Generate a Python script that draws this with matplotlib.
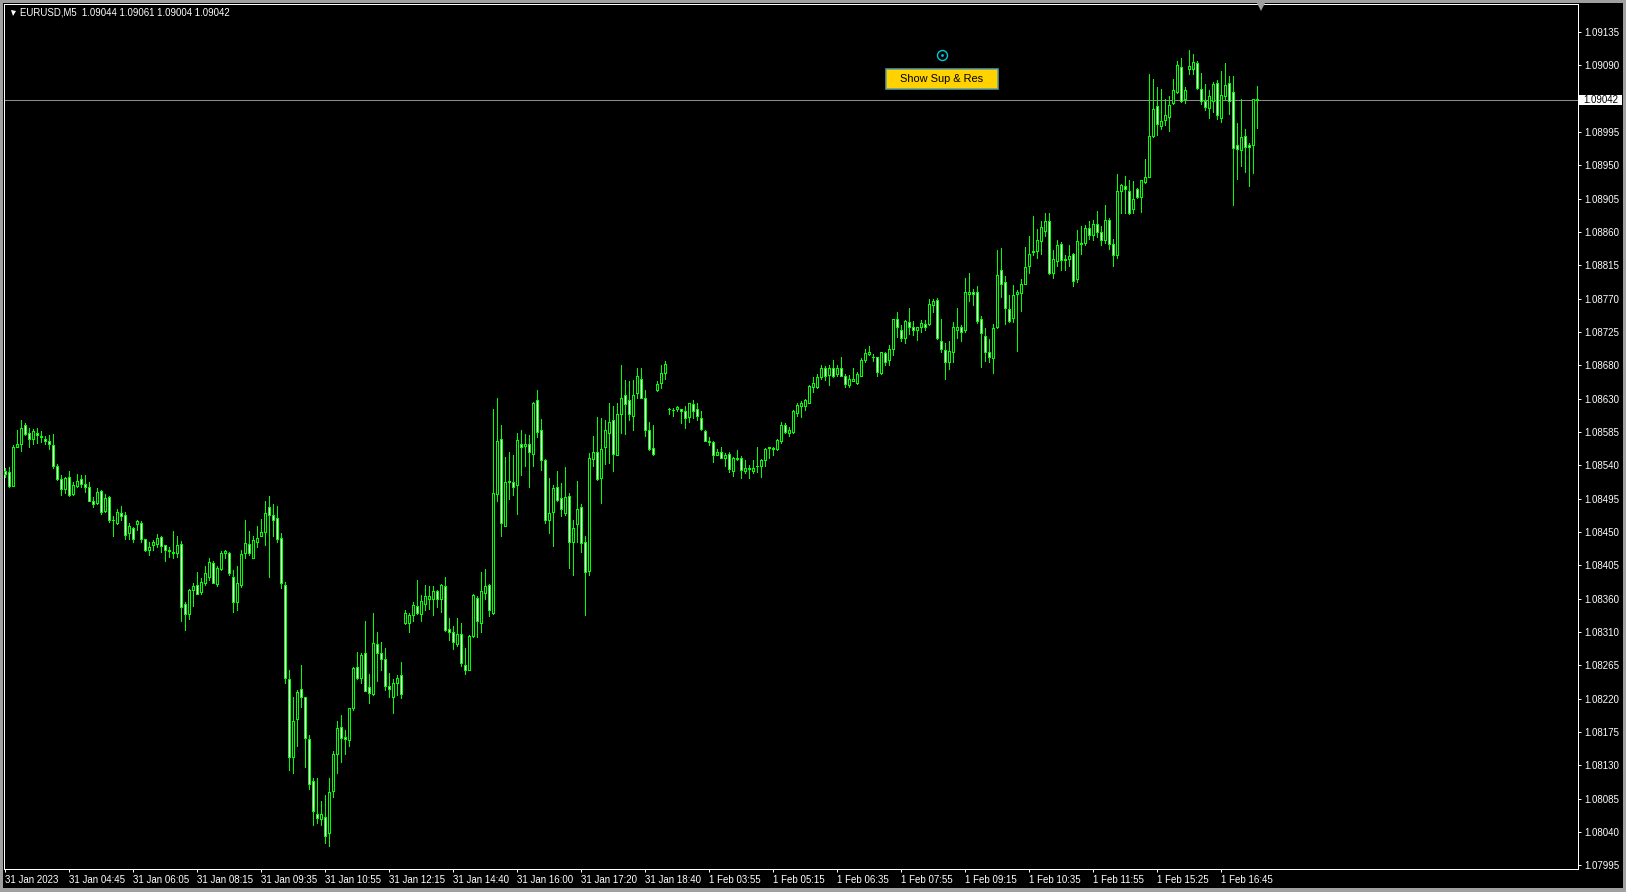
import matplotlib
matplotlib.use("Agg")
import matplotlib.pyplot as plt
from matplotlib.patches import Rectangle
from matplotlib.lines import Line2D
import numpy as np

W, H = 1626, 892
plt.rcParams['font.family'] = ['Liberation Sans', 'DejaVu Sans']

symbol = "EURUSD,M5"
last_ohlc = [1.09044, 1.09061, 1.09004, 1.09042]
button_text = "Show Sup & Res"

price_labels = ["1.09135", "1.09090", "", "1.08995", "1.08950", "1.08905", "1.08860",
                "1.08815", "1.08770", "1.08725", "1.08680", "1.08630", "1.08585", "1.08540",
                "1.08495", "1.08450", "1.08405", "1.08360", "1.08310", "1.08265", "1.08220",
                "1.08175", "1.08130", "1.08085", "1.08040", "1.07995"]

time_labels = ["31 Jan 2023", "31 Jan 04:45", "31 Jan 06:05", "31 Jan 08:15", "31 Jan 09:35",
               "31 Jan 10:55", "31 Jan 12:15", "31 Jan 14:40", "31 Jan 16:00", "31 Jan 17:20",
               "31 Jan 18:40", "1 Feb 03:55", "1 Feb 05:15", "1 Feb 06:35", "1 Feb 07:55",
               "1 Feb 09:15", "1 Feb 10:35", "1 Feb 11:55", "1 Feb 15:25", "1 Feb 16:45"]
bars_per_label = 16

open_ = [
    1.08534, 1.08533, 1.08514, 1.08568, 1.08571, 1.08597, 1.08586, 1.08579, 1.08587, 1.08582,
    1.08579, 1.08575, 1.08570, 1.08541, 1.08523, 1.08510, 1.08526, 1.08503, 1.08514, 1.08524,
    1.08517, 1.08512, 1.08494, 1.08491, 1.08507, 1.08480, 1.08499, 1.08467, 1.08463, 1.08477,
    1.08474, 1.08450, 1.08457, 1.08462, 1.08463, 1.08441, 1.08426, 1.08433, 1.08435, 1.08444,
    1.08433, 1.08426, 1.08424, 1.08423, 1.08435, 1.08353, 1.08339, 1.08372, 1.08378, 1.08369,
    1.08382, 1.08389, 1.08409, 1.08380, 1.08400, 1.08423, 1.08422, 1.08389, 1.08355, 1.08379,
    1.08422, 1.08435, 1.08416, 1.08437, 1.08446, 1.08451, 1.08485, 1.08474, 1.08470, 1.08443,
    1.08378, 1.08250, 1.08143, 1.08195, 1.08236, 1.08225, 1.08168, 1.08110, 1.08066, 1.08058,
    1.08062, 1.08039, 1.08097, 1.08147, 1.08184, 1.08171, 1.08166, 1.08210, 1.08266, 1.08251,
    1.08285, 1.08239, 1.08229, 1.08298, 1.08285, 1.08277, 1.08241, 1.08225, 1.08244, 1.08255,
    1.08327, 1.08326, 1.08337, 1.08350, 1.08339, 1.08353, 1.08360, 1.08360, 1.08370, 1.08359,
    1.08377, 1.08318, 1.08314, 1.08298, 1.08312, 1.08269, 1.08263, 1.08309, 1.08361, 1.08326,
    1.08368, 1.08379, 1.08340, 1.08503, 1.08579, 1.08460, 1.08519, 1.08520, 1.08516, 1.08572,
    1.08569, 1.08571, 1.08558, 1.08631, 1.08591, 1.08550, 1.08468, 1.08478, 1.08512, 1.08497,
    1.08477, 1.08500, 1.08437, 1.08462, 1.08486, 1.08437, 1.08398, 1.08551, 1.08560, 1.08525,
    1.08567, 1.08587, 1.08605, 1.08557, 1.08612, 1.08638, 1.08631, 1.08610, 1.08641, 1.08661,
    1.08634, 1.08590, 1.08566, 1.08645, 1.08655, 1.08669, 1.08619, 1.08618, 1.08619, 1.08619,
    1.08617, 1.08608, 1.08626, 1.08619, 1.08607, 1.08589, 1.08575, 1.08574, 1.08557, 1.08561,
    1.08553, 1.08558, 1.08534, 1.08551, 1.08552, 1.08534, 1.08538, 1.08534, 1.08541, 1.08541,
    1.08549, 1.08566, 1.08566, 1.08565, 1.08575, 1.08598, 1.08587, 1.08588, 1.08614, 1.08623,
    1.08624, 1.08628, 1.08649, 1.08650, 1.08663, 1.08675, 1.08666, 1.08676, 1.08667, 1.08675,
    1.08665, 1.08652, 1.08658, 1.08655, 1.08665, 1.08686, 1.08694, 1.08691, 1.08690, 1.08669,
    1.08696, 1.08686, 1.08702, 1.08742, 1.08728, 1.08716, 1.08739, 1.08731, 1.08727, 1.08732,
    1.08735, 1.08735, 1.08761, 1.08768, 1.08713, 1.08700, 1.08683, 1.08698, 1.08727, 1.08731,
    1.08727, 1.08776, 1.08779, 1.08780, 1.08742, 1.08719, 1.08698, 1.08689, 1.08731, 1.08809,
    1.08793, 1.08756, 1.08744, 1.08776, 1.08778, 1.08791, 1.08815, 1.08834, 1.08836, 1.08849,
    1.08863, 1.08877, 1.08806, 1.08822, 1.08845, 1.08823, 1.08824, 1.08832, 1.08797, 1.08845,
    1.08846, 1.08867, 1.08858, 1.08872, 1.08862, 1.08850, 1.08878, 1.08845, 1.08830, 1.08917,
    1.08924, 1.08918, 1.08893, 1.08920, 1.08910, 1.08930, 1.08937, 1.08993, 1.09034, 1.09007,
    1.09014, 1.09019, 1.09038, 1.09053, 1.09087, 1.09043, 1.09085, 1.09084, 1.09092, 1.09057,
    1.09041, 1.09031, 1.09041, 1.09065, 1.09018, 1.09048, 1.09065, 1.09053, 1.08981, 1.08974,
    1.08993, 1.08980, 1.08981, 1.09044]

high = [
    1.08538, 1.08540, 1.08570, 1.08591, 1.08604, 1.08600, 1.08594, 1.08592, 1.08593, 1.08589,
    1.08582, 1.08584, 1.08585, 1.08544, 1.08529, 1.08527, 1.08535, 1.08520, 1.08531, 1.08529,
    1.08529, 1.08520, 1.08499, 1.08511, 1.08509, 1.08503, 1.08500, 1.08473, 1.08483, 1.08487,
    1.08478, 1.08463, 1.08458, 1.08468, 1.08466, 1.08442, 1.08437, 1.08440, 1.08448, 1.08445,
    1.08434, 1.08431, 1.08452, 1.08446, 1.08439, 1.08356, 1.08373, 1.08382, 1.08396, 1.08388,
    1.08405, 1.08416, 1.08412, 1.08404, 1.08425, 1.08426, 1.08424, 1.08399, 1.08405, 1.08427,
    1.08468, 1.08452, 1.08446, 1.08459, 1.08469, 1.08494, 1.08500, 1.08490, 1.08487, 1.08450,
    1.08383, 1.08263, 1.08226, 1.08235, 1.08269, 1.08226, 1.08174, 1.08114, 1.08114, 1.08083,
    1.08092, 1.08114, 1.08152, 1.08193, 1.08201, 1.08180, 1.08211, 1.08267, 1.08287, 1.08285,
    1.08329, 1.08257, 1.08341, 1.08314, 1.08301, 1.08292, 1.08258, 1.08250, 1.08256, 1.08273,
    1.08345, 1.08341, 1.08355, 1.08386, 1.08365, 1.08379, 1.08377, 1.08377, 1.08372, 1.08380,
    1.08389, 1.08333, 1.08323, 1.08333, 1.08326, 1.08293, 1.08310, 1.08366, 1.08363, 1.08396,
    1.08400, 1.08380, 1.08620, 1.08634, 1.08598, 1.08554, 1.08560, 1.08556, 1.08586, 1.08591,
    1.08585, 1.08584, 1.08629, 1.08645, 1.08606, 1.08551, 1.08525, 1.08515, 1.08535, 1.08518,
    1.08540, 1.08504, 1.08468, 1.08521, 1.08490, 1.08445, 1.08559, 1.08582, 1.08608, 1.08607,
    1.08605, 1.08627, 1.08623, 1.08627, 1.08680, 1.08659, 1.08657, 1.08659, 1.08675, 1.08675,
    1.08645, 1.08602, 1.08598, 1.08658, 1.08680, 1.08685, 1.08621, 1.08621, 1.08623, 1.08620,
    1.08624, 1.08628, 1.08632, 1.08627, 1.08617, 1.08591, 1.08581, 1.08576, 1.08565, 1.08567,
    1.08559, 1.08560, 1.08554, 1.08563, 1.08555, 1.08550, 1.08543, 1.08550, 1.08567, 1.08551,
    1.08566, 1.08568, 1.08567, 1.08578, 1.08602, 1.08600, 1.08595, 1.08618, 1.08627, 1.08630,
    1.08633, 1.08652, 1.08663, 1.08667, 1.08680, 1.08678, 1.08680, 1.08686, 1.08680, 1.08691,
    1.08667, 1.08666, 1.08676, 1.08670, 1.08689, 1.08701, 1.08705, 1.08694, 1.08691, 1.08698,
    1.08697, 1.08707, 1.08743, 1.08752, 1.08734, 1.08741, 1.08757, 1.08740, 1.08732, 1.08741,
    1.08741, 1.08770, 1.08770, 1.08771, 1.08742, 1.08709, 1.08713, 1.08738, 1.08757, 1.08734,
    1.08799, 1.08805, 1.08784, 1.08788, 1.08747, 1.08730, 1.08715, 1.08736, 1.08837, 1.08839,
    1.08801, 1.08775, 1.08789, 1.08782, 1.08797, 1.08841, 1.08856, 1.08883, 1.08866, 1.08877,
    1.08887, 1.08888, 1.08837, 1.08851, 1.08848, 1.08830, 1.08844, 1.08833, 1.08864, 1.08870,
    1.08871, 1.08876, 1.08878, 1.08890, 1.08870, 1.08898, 1.08880, 1.08852, 1.08941, 1.08927,
    1.08938, 1.08933, 1.08931, 1.08922, 1.08933, 1.08961, 1.09078, 1.09071, 1.09060, 1.09057,
    1.09044, 1.09048, 1.09071, 1.09095, 1.09100, 1.09060, 1.09110, 1.09105, 1.09096, 1.09079,
    1.09064, 1.09056, 1.09066, 1.09069, 1.09082, 1.09092, 1.09075, 1.09075, 1.09010, 1.09043,
    1.09003, 1.08983, 1.09044, 1.09061]

low = [
    1.08527, 1.08512, 1.08514, 1.08567, 1.08562, 1.08584, 1.08567, 1.08571, 1.08573, 1.08574,
    1.08572, 1.08565, 1.08538, 1.08522, 1.08502, 1.08504, 1.08501, 1.08502, 1.08513, 1.08512,
    1.08506, 1.08493, 1.08486, 1.08489, 1.08476, 1.08479, 1.08465, 1.08445, 1.08462, 1.08468,
    1.08442, 1.08442, 1.08438, 1.08454, 1.08437, 1.08425, 1.08420, 1.08427, 1.08431, 1.08424,
    1.08412, 1.08417, 1.08415, 1.08417, 1.08330, 1.08317, 1.08332, 1.08350, 1.08366, 1.08367,
    1.08378, 1.08386, 1.08381, 1.08377, 1.08399, 1.08416, 1.08393, 1.08342, 1.08345, 1.08376,
    1.08416, 1.08419, 1.08415, 1.08431, 1.08445, 1.08433, 1.08389, 1.08445, 1.08437, 1.08375,
    1.08244, 1.08125, 1.08122, 1.08159, 1.08212, 1.08130, 1.08099, 1.08050, 1.08053, 1.08050,
    1.08026, 1.08022, 1.08088, 1.08121, 1.08136, 1.08148, 1.08158, 1.08207, 1.08250, 1.08245,
    1.08233, 1.08217, 1.08228, 1.08248, 1.08262, 1.08235, 1.08226, 1.08204, 1.08228, 1.08224,
    1.08325, 1.08314, 1.08329, 1.08339, 1.08329, 1.08344, 1.08346, 1.08338, 1.08349, 1.08342,
    1.08316, 1.08303, 1.08291, 1.08295, 1.08268, 1.08257, 1.08262, 1.08308, 1.08308, 1.08315,
    1.08359, 1.08336, 1.08339, 1.08493, 1.08446, 1.08459, 1.08496, 1.08502, 1.08476, 1.08529,
    1.08541, 1.08512, 1.08541, 1.08581, 1.08536, 1.08464, 1.08450, 1.08432, 1.08493, 1.08473,
    1.08474, 1.08402, 1.08392, 1.08437, 1.08424, 1.08337, 1.08392, 1.08541, 1.08522, 1.08491,
    1.08544, 1.08546, 1.08534, 1.08556, 1.08587, 1.08585, 1.08604, 1.08590, 1.08634, 1.08634,
    1.08582, 1.08563, 1.08556, 1.08644, 1.08648, 1.08660, 1.08613, 1.08610, 1.08616, 1.08600,
    1.08594, 1.08601, 1.08607, 1.08605, 1.08591, 1.08575, 1.08570, 1.08547, 1.08556, 1.08552,
    1.08541, 1.08533, 1.08528, 1.08549, 1.08525, 1.08532, 1.08525, 1.08532, 1.08533, 1.08527,
    1.08542, 1.08553, 1.08556, 1.08563, 1.08573, 1.08587, 1.08582, 1.08587, 1.08610, 1.08609,
    1.08618, 1.08627, 1.08643, 1.08648, 1.08661, 1.08659, 1.08652, 1.08663, 1.08665, 1.08664,
    1.08649, 1.08650, 1.08657, 1.08654, 1.08664, 1.08684, 1.08693, 1.08685, 1.08664, 1.08667,
    1.08679, 1.08679, 1.08693, 1.08718, 1.08712, 1.08709, 1.08722, 1.08720, 1.08714, 1.08724,
    1.08727, 1.08734, 1.08752, 1.08715, 1.08698, 1.08660, 1.08674, 1.08683, 1.08716, 1.08713,
    1.08724, 1.08767, 1.08761, 1.08737, 1.08677, 1.08685, 1.08684, 1.08668, 1.08730, 1.08773,
    1.08735, 1.08738, 1.08739, 1.08699, 1.08753, 1.08790, 1.08806, 1.08830, 1.08826, 1.08831,
    1.08856, 1.08804, 1.08798, 1.08815, 1.08809, 1.08809, 1.08815, 1.08787, 1.08793, 1.08832,
    1.08844, 1.08852, 1.08850, 1.08855, 1.08843, 1.08846, 1.08838, 1.08815, 1.08826, 1.08887,
    1.08887, 1.08886, 1.08887, 1.08908, 1.08889, 1.08929, 1.08936, 1.08992, 1.08994, 1.09002,
    1.09008, 1.08999, 1.09037, 1.09052, 1.09039, 1.09038, 1.09078, 1.09078, 1.09057, 1.09037,
    1.09028, 1.09018, 1.09026, 1.09016, 1.09012, 1.09044, 1.09023, 1.08898, 1.08934, 1.08952,
    1.08943, 1.08924, 1.08942, 1.09004]

close = [
    1.08530, 1.08514, 1.08567, 1.08571, 1.08594, 1.08585, 1.08578, 1.08589, 1.08584, 1.08581,
    1.08576, 1.08571, 1.08541, 1.08523, 1.08510, 1.08525, 1.08502, 1.08515, 1.08521, 1.08517,
    1.08513, 1.08494, 1.08489, 1.08506, 1.08479, 1.08498, 1.08467, 1.08468, 1.08478, 1.08473,
    1.08447, 1.08459, 1.08442, 1.08466, 1.08441, 1.08426, 1.08431, 1.08437, 1.08443, 1.08432,
    1.08426, 1.08425, 1.08423, 1.08433, 1.08348, 1.08339, 1.08372, 1.08377, 1.08367, 1.08383,
    1.08395, 1.08410, 1.08382, 1.08402, 1.08422, 1.08425, 1.08395, 1.08355, 1.08381, 1.08421,
    1.08436, 1.08422, 1.08440, 1.08443, 1.08451, 1.08477, 1.08475, 1.08468, 1.08441, 1.08382,
    1.08252, 1.08144, 1.08193, 1.08232, 1.08226, 1.08170, 1.08106, 1.08069, 1.08060, 1.08066,
    1.08035, 1.08096, 1.08148, 1.08183, 1.08170, 1.08168, 1.08210, 1.08265, 1.08251, 1.08283,
    1.08234, 1.08231, 1.08299, 1.08285, 1.08278, 1.08240, 1.08236, 1.08244, 1.08252, 1.08230,
    1.08340, 1.08338, 1.08351, 1.08340, 1.08357, 1.08363, 1.08363, 1.08370, 1.08360, 1.08379,
    1.08317, 1.08314, 1.08300, 1.08312, 1.08272, 1.08262, 1.08309, 1.08365, 1.08330, 1.08370,
    1.08377, 1.08344, 1.08504, 1.08575, 1.08463, 1.08519, 1.08521, 1.08512, 1.08577, 1.08568,
    1.08572, 1.08560, 1.08628, 1.08588, 1.08549, 1.08467, 1.08477, 1.08511, 1.08495, 1.08482,
    1.08499, 1.08438, 1.08456, 1.08482, 1.08436, 1.08396, 1.08552, 1.08560, 1.08523, 1.08564,
    1.08590, 1.08602, 1.08558, 1.08612, 1.08634, 1.08626, 1.08612, 1.08639, 1.08665, 1.08635,
    1.08590, 1.08564, 1.08558, 1.08654, 1.08668, 1.08681, 1.08619, 1.08618, 1.08622, 1.08616,
    1.08607, 1.08627, 1.08617, 1.08610, 1.08592, 1.08576, 1.08574, 1.08556, 1.08561, 1.08553,
    1.08557, 1.08537, 1.08552, 1.08553, 1.08536, 1.08538, 1.08537, 1.08538, 1.08542, 1.08550,
    1.08565, 1.08567, 1.08564, 1.08577, 1.08598, 1.08588, 1.08591, 1.08617, 1.08625, 1.08628,
    1.08631, 1.08651, 1.08655, 1.08663, 1.08675, 1.08664, 1.08675, 1.08664, 1.08675, 1.08665,
    1.08654, 1.08661, 1.08661, 1.08667, 1.08687, 1.08696, 1.08697, 1.08690, 1.08670, 1.08697,
    1.08684, 1.08701, 1.08742, 1.08731, 1.08717, 1.08740, 1.08731, 1.08727, 1.08731, 1.08737,
    1.08731, 1.08763, 1.08767, 1.08716, 1.08701, 1.08684, 1.08699, 1.08731, 1.08731, 1.08724,
    1.08779, 1.08780, 1.08776, 1.08740, 1.08723, 1.08697, 1.08690, 1.08730, 1.08803, 1.08791,
    1.08757, 1.08740, 1.08775, 1.08780, 1.08791, 1.08814, 1.08832, 1.08836, 1.08850, 1.08868,
    1.08877, 1.08805, 1.08824, 1.08844, 1.08823, 1.08825, 1.08829, 1.08795, 1.08849, 1.08847,
    1.08867, 1.08858, 1.08872, 1.08862, 1.08850, 1.08878, 1.08845, 1.08830, 1.08918, 1.08926,
    1.08920, 1.08888, 1.08906, 1.08909, 1.08932, 1.08936, 1.08993, 1.09030, 1.09009, 1.09013,
    1.09022, 1.09035, 1.09056, 1.09090, 1.09040, 1.09056, 1.09089, 1.09094, 1.09058, 1.09040,
    1.09033, 1.09048, 1.09064, 1.09021, 1.09049, 1.09063, 1.09040, 1.08976, 1.08975, 1.08992,
    1.08978, 1.08978, 1.09043, 1.09042]

o = np.array(open_); h = np.array(high); l = np.array(low); c = np.array(close)
n = len(c)
assert len(o) == len(h) == len(l) == n

GREEN = '#00ff00'
PX = 0.72  # one pixel in points at dpi=100
FS = 7.0


def fx(px):
    return px / W


def fy(py):
    return 1 - py / H


fig = plt.figure(figsize=(W / 100, H / 100), dpi=100, facecolor='#a0a0a0')
fig.add_artist(Rectangle((fx(3), fy(888)), (W - 6) / W, 885 / H, transform=fig.transFigure,
                         facecolor='black', edgecolor='none', zorder=0))

ax = fig.add_axes([fx(4), fy(869), 1574 / W, 865 / H])
ax.set_facecolor('black')
for s in ax.spines.values():
    s.set_color('white')
    s.set_linewidth(PX)

# x in bar units: 4 px per bar, bar 0 centred 1.3 px inside the frame
ax.set_xlim(-0.325, -0.325 + 1574 / 4)
ax.set_ylim(1.079902, 1.091733)

x = np.arange(n)
up = c >= o
ax.vlines(x, l, h, colors=GREEN, linewidth=PX, antialiased=False, zorder=3)
ax.bar(x, np.abs(c - o), bottom=np.minimum(o, c), width=0.5,
       color=np.where(up, 'black', 'white'), edgecolor=GREEN, linewidth=PX,
       antialiased=False, zorder=4)

# current price line
ax.axhline(last_ohlc[3], color='#8c8c8c', linewidth=PX, zorder=2)

# y axis (right)
top_val, bot_val = float(price_labels[0]), float(price_labels[-1])
yt = np.linspace(top_val, bot_val, len(price_labels))
ax.yaxis.tick_right()
ax.set_yticks(yt)
ax.set_yticklabels(price_labels)
ax.tick_params(axis='y', direction='out', length=2.2, width=PX, colors='white',
               labelsize=FS, pad=2.4)

# x axis
xt = np.arange(len(time_labels)) * bars_per_label
ax.set_xticks(xt)
ax.set_xticklabels(time_labels, ha='left')
ax.tick_params(axis='x', direction='out', length=2.2, width=PX, colors='white',
               labelsize=FS, pad=2.0)
for lab in ax.get_xticklabels():
    lab.set_horizontalalignment('left')

# current price box on the axis
fig.add_artist(Rectangle((fx(1579), fy(105)), 43 / W, 10.5 / H, transform=fig.transFigure,
                         facecolor='white', edgecolor='none', zorder=5))
fig.text(fx(1583.5), fy(99.6), f"{last_ohlc[3]:.5f}", color='black', fontsize=FS,
         ha='left', va='center', zorder=6)

# header
header = f"{symbol}  " + " ".join(f"{v:.5f}" for v in last_ohlc)
fig.text(fx(20.5), fy(12.8), header, color='white', fontsize=6.9, ha='left', va='center')
fig.add_artist(Line2D([fx(13)], [fy(12.8)], marker='v', markersize=3.6, color='white',
                      markeredgewidth=0, linestyle='none', transform=fig.transFigure))

# shift marker at top
fig.add_artist(Line2D([fx(1261)], [fy(6.5)], marker='v', markersize=6, color='#a0a0a0',
                      markeredgewidth=0, linestyle='none', transform=fig.transFigure))

# button
fig.add_artist(Rectangle((fx(886), fy(89)), 112 / W, 20.5 / H, transform=fig.transFigure,
                         facecolor='#ffd200', edgecolor='#5f9ea0', linewidth=1.1, zorder=5))
fig.text(fx(942), fy(79), button_text, color='black', fontsize=7.9, ha='center',
         va='center', zorder=6)

# small circle icon
fig.add_artist(Line2D([fx(941.5)], [fy(54.8)], marker='o', markersize=7.2,
                      markerfacecolor='black', markeredgecolor='#00c8dc',
                      markeredgewidth=1.0, linestyle='none', transform=fig.transFigure))
fig.add_artist(Line2D([fx(941.5)], [fy(54.8)], marker='o', markersize=2.0,
                      color='#00c8dc', markeredgewidth=0, linestyle='none',
                      transform=fig.transFigure))

fig.savefig('out.png', dpi=100, facecolor=fig.get_facecolor())
